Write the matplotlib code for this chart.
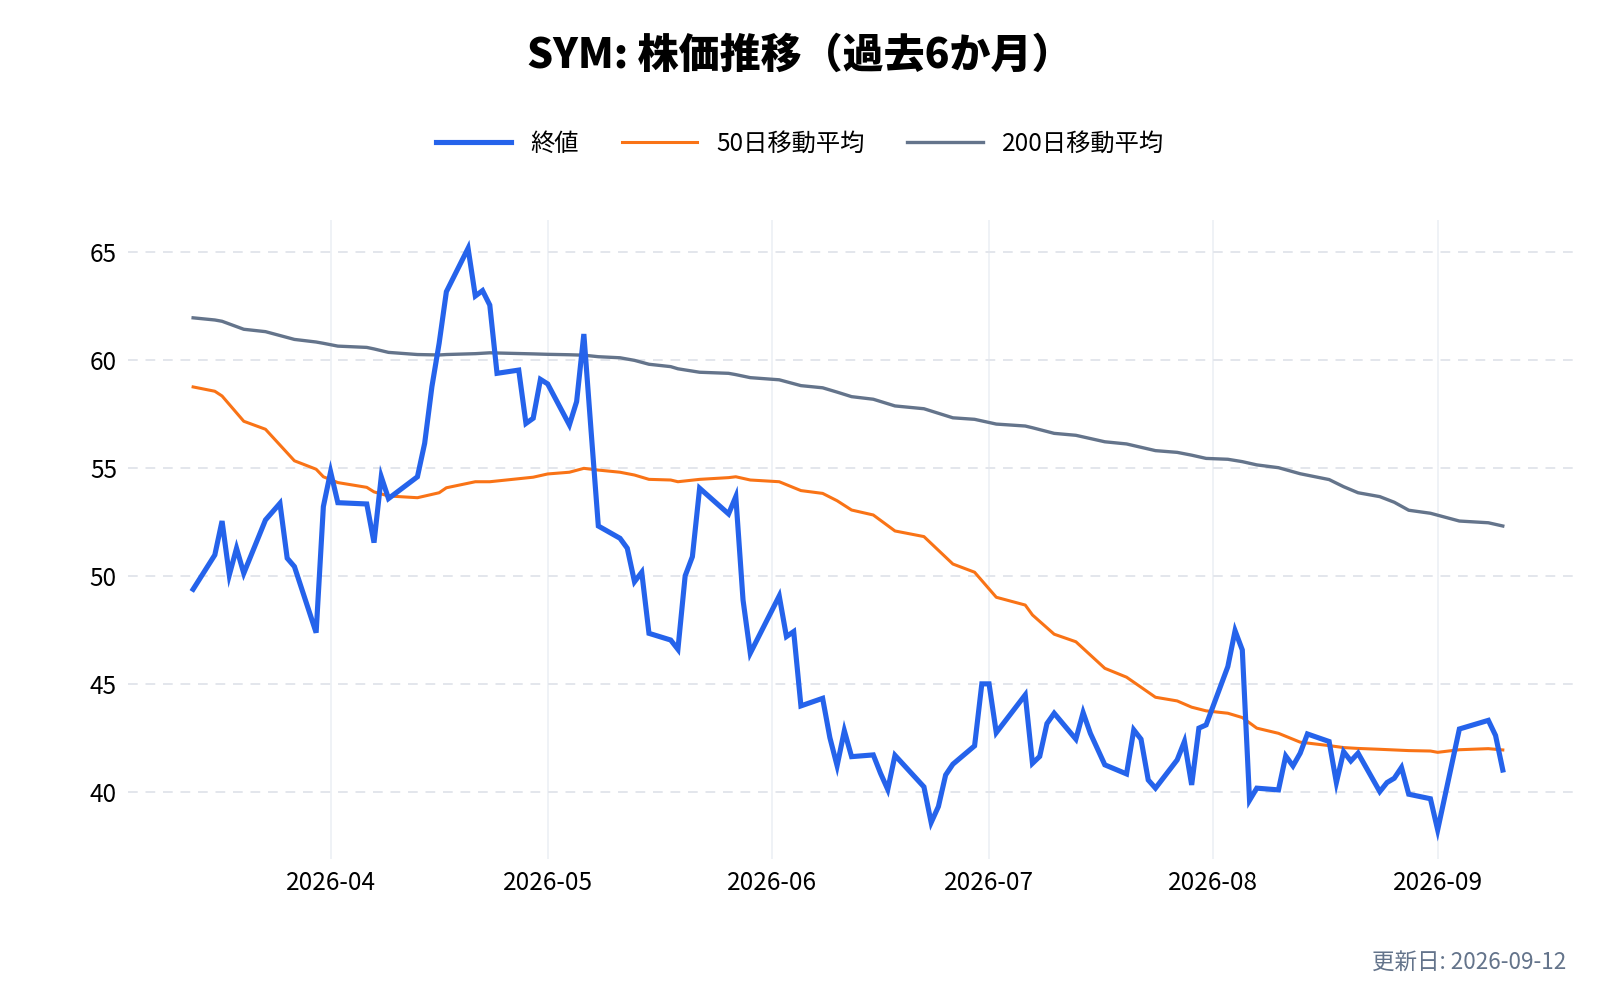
import pandas as pd
import matplotlib
matplotlib.use("Agg")
import matplotlib.pyplot as plt
import matplotlib.dates as mdates

plt.rcParams['font.family'] = ['Noto Sans CJK JP', 'DejaVu Sans']

# 終値 (close)
close_dates = [
    "2026-03-13", "2026-03-16", "2026-03-17", "2026-03-18", "2026-03-19", "2026-03-20",
    "2026-03-23", "2026-03-25", "2026-03-26", "2026-03-27", "2026-03-30", "2026-03-31",
    "2026-04-01", "2026-04-02", "2026-04-06", "2026-04-07", "2026-04-08", "2026-04-09",
    "2026-04-13", "2026-04-14", "2026-04-15", "2026-04-16", "2026-04-17", "2026-04-20",
    "2026-04-21", "2026-04-22", "2026-04-23", "2026-04-24", "2026-04-27", "2026-04-28",
    "2026-04-29", "2026-04-30", "2026-05-01", "2026-05-04", "2026-05-05", "2026-05-06",
    "2026-05-07", "2026-05-08", "2026-05-11", "2026-05-12", "2026-05-13", "2026-05-14",
    "2026-05-15", "2026-05-18", "2026-05-19", "2026-05-20", "2026-05-21", "2026-05-22",
    "2026-05-26", "2026-05-27", "2026-05-28", "2026-05-29", "2026-06-02", "2026-06-03",
    "2026-06-04", "2026-06-05", "2026-06-08", "2026-06-09", "2026-06-10", "2026-06-11",
    "2026-06-12", "2026-06-15", "2026-06-16", "2026-06-17", "2026-06-18", "2026-06-22",
    "2026-06-23", "2026-06-24", "2026-06-25", "2026-06-26", "2026-06-29", "2026-06-30",
    "2026-07-01", "2026-07-02", "2026-07-06", "2026-07-07", "2026-07-08", "2026-07-09",
    "2026-07-10", "2026-07-13", "2026-07-14", "2026-07-15", "2026-07-17", "2026-07-20",
    "2026-07-21", "2026-07-22", "2026-07-23", "2026-07-24", "2026-07-27", "2026-07-28",
    "2026-07-29", "2026-07-30", "2026-07-31", "2026-08-03", "2026-08-04", "2026-08-05",
    "2026-08-06", "2026-08-07", "2026-08-10", "2026-08-11", "2026-08-12", "2026-08-13",
    "2026-08-14", "2026-08-17", "2026-08-18", "2026-08-19", "2026-08-20", "2026-08-21",
    "2026-08-24", "2026-08-25", "2026-08-26", "2026-08-27", "2026-08-28", "2026-08-31",
    "2026-09-01", "2026-09-04", "2026-09-08", "2026-09-09", "2026-09-10",
]
close_values = [
    49.37, 50.96, 52.53, 50.03, 51.27, 50.11,
    52.58, 53.35, 50.81, 50.42, 47.36, 53.20,
    54.81, 53.38, 53.32, 51.53, 54.58, 53.57,
    54.58, 56.13, 58.75, 60.76, 63.15, 65.16,
    62.95, 63.20, 62.53, 59.37, 59.52, 57.05,
    57.29, 59.09, 58.88, 56.98, 58.06, 61.19,
    56.70, 52.30, 51.73, 51.27, 49.72, 50.16,
    47.33, 47.02, 46.59, 49.99, 50.88, 54.05,
    52.86, 53.66, 48.87, 46.41, 49.06, 47.18,
    47.41, 43.97, 44.32, 42.50, 41.20, 42.82,
    41.62, 41.70, 40.85, 40.10, 41.68, 40.22,
    38.57, 39.31, 40.77, 41.27, 42.12, 44.99,
    44.99, 42.73, 44.48, 41.31, 41.63, 43.15,
    43.63, 42.43, 43.66, 42.70, 41.24, 40.82,
    42.86, 42.43, 40.54, 40.16, 41.47, 42.32,
    40.31, 42.94, 43.09, 45.79, 47.45, 46.56,
    39.60, 40.16, 40.08, 41.65, 41.19, 41.78,
    42.67, 42.32, 40.42, 41.85, 41.42, 41.78,
    40.00, 40.42, 40.62, 41.12, 39.88, 39.67,
    38.23, 42.90, 43.30, 42.60, 41.00,
]

# 移動平均 (moving averages)
ma_dates = [
    "2026-03-13", "2026-03-16", "2026-03-17", "2026-03-20", "2026-03-23", "2026-03-27",
    "2026-03-30", "2026-03-31", "2026-04-02", "2026-04-06", "2026-04-07", "2026-04-09",
    "2026-04-13", "2026-04-16", "2026-04-17", "2026-04-21", "2026-04-23", "2026-04-29",
    "2026-05-01", "2026-05-04", "2026-05-06", "2026-05-08", "2026-05-11", "2026-05-13",
    "2026-05-15", "2026-05-18", "2026-05-19", "2026-05-22", "2026-05-26", "2026-05-27",
    "2026-05-29", "2026-06-02", "2026-06-05", "2026-06-08", "2026-06-10", "2026-06-12",
    "2026-06-15", "2026-06-18", "2026-06-22", "2026-06-26", "2026-06-29", "2026-07-02",
    "2026-07-06", "2026-07-07", "2026-07-10", "2026-07-13", "2026-07-17", "2026-07-20",
    "2026-07-24", "2026-07-27", "2026-07-29", "2026-07-31", "2026-08-03", "2026-08-05",
    "2026-08-07", "2026-08-10", "2026-08-13", "2026-08-17", "2026-08-19", "2026-08-21",
    "2026-08-24", "2026-08-26", "2026-08-28", "2026-08-31", "2026-09-01", "2026-09-04",
    "2026-09-08", "2026-09-10",
]
ma50_values = [
    58.74, 58.54, 58.32, 57.15, 56.78, 55.32,
    54.93, 54.58, 54.31, 54.09, 53.88, 53.69,
    53.61, 53.84, 54.07, 54.35, 54.35, 54.56,
    54.71, 54.79, 54.97, 54.89, 54.79, 54.66,
    54.46, 54.43, 54.35, 54.46, 54.54, 54.58,
    54.43, 54.35, 53.94, 53.81, 53.47, 53.04,
    52.81, 52.07, 51.81, 50.54, 50.16, 49.00,
    48.64, 48.18, 47.29, 46.94, 45.71, 45.30,
    44.37, 44.20, 43.91, 43.74, 43.63, 43.43,
    42.94, 42.70, 42.29, 42.13, 42.04, 42.00,
    41.96, 41.93, 41.90, 41.88, 41.82, 41.94,
    41.99, 41.93,
]
ma200_values = [
    61.94, 61.84, 61.78, 61.41, 61.30, 60.94,
    60.82, 60.76, 60.63, 60.57, 60.50, 60.34,
    60.24, 60.22, 60.24, 60.28, 60.32, 60.27,
    60.25, 60.23, 60.21, 60.14, 60.09, 59.97,
    59.79, 59.68, 59.58, 59.42, 59.37, 59.31,
    59.17, 59.07, 58.80, 58.70, 58.50, 58.29,
    58.17, 57.86, 57.73, 57.31, 57.24, 57.02,
    56.93, 56.85, 56.59, 56.50, 56.20, 56.10,
    55.79, 55.71, 55.58, 55.43, 55.39, 55.28,
    55.13, 55.00, 54.72, 54.45, 54.12, 53.84,
    53.66, 53.40, 53.03, 52.89, 52.80, 52.53,
    52.45, 52.30,
]

y_ticks = [40, 45, 50, 55, 60, 65]
title = "SYM: 株価推移（過去6か月）"
series_labels = ["終値", "50日移動平均", "200日移動平均"]
footer = "更新日: 2026-09-12"

BLUE = "#2563eb"
ORANGE = "#f97316"
GRAY = "#64748b"


def main():
    close_x = pd.to_datetime(close_dates)
    ma_x = pd.to_datetime(ma_dates)

    fig = plt.figure(figsize=(16, 10), dpi=100)
    ax = fig.add_axes([0.08, 0.141, 0.9056, 0.639])

    ax.plot(close_x, close_values, color=BLUE, lw=3.7, label=series_labels[0],
            solid_joinstyle='miter', zorder=3)
    ax.plot(ma_x, ma50_values, color=ORANGE, lw=2.2, label=series_labels[1], zorder=2)
    ax.plot(ma_x, ma200_values, color=GRAY, lw=2.4, label=series_labels[2], zorder=2)

    # axes range, ticks and grid
    ax.set_xlim(pd.Timestamp("2026-03-04"), pd.Timestamp("2026-09-20 06:00"))
    ax.set_ylim(36.88, 66.47)
    ax.set_yticks(y_ticks)
    ax.xaxis.set_major_locator(mdates.MonthLocator())
    ax.xaxis.set_major_formatter(mdates.DateFormatter('%Y-%m'))
    ax.tick_params(axis='both', length=0, labelsize=17.5, colors='#000000', pad=8)
    ax.grid(axis='y', color='#e3e6ec', linestyle=(0, (5, 4)), lw=1.4)
    ax.grid(axis='x', color='#eef1f6', linestyle='-', lw=1.3)
    ax.set_axisbelow(True)
    for side in ax.spines.values():
        side.set_visible(False)

    # title, legend, footer
    fig.text(0.5, 0.944, title, ha='center', va='center', fontsize=29.5,
             fontweight='heavy', color='#000000')
    fig.legend(loc='center', bbox_to_anchor=(0.5, 0.856), ncol=3, frameon=False,
               fontsize=17.5, handlelength=3.1, handletextpad=0.8, columnspacing=1.75)
    fig.text(0.979, 0.038, footer, ha='right', va='center', fontsize=16.2, color=GRAY)

    fig.savefig('out.png', dpi=100, facecolor='white')
    plt.close(fig)


if __name__ == "__main__":
    main()
